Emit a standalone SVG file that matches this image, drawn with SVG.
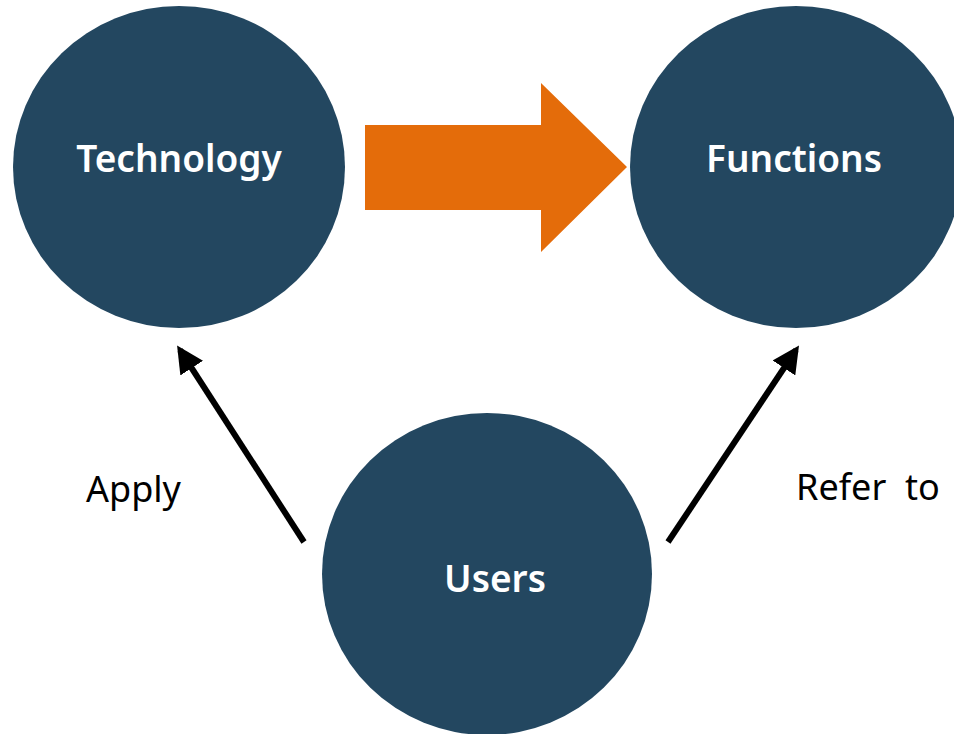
<svg xmlns="http://www.w3.org/2000/svg" width="954" height="734" viewBox="0 0 954 734">
<defs>
<style>
.node{fill:#234760;}
.nlabel{font-family:"Noto Sans","Open Sans",sans-serif;font-weight:600;font-size:37px;fill:#ffffff;text-anchor:middle;}
.elabel{font-family:"Noto Sans","Open Sans",sans-serif;font-size:36px;fill:#000000;}
.conn{stroke:#000000;stroke-width:6;fill:none;}
</style>
<marker id="ah" viewBox="0 0 10 10" refX="8" refY="5" markerWidth="4.5" markerHeight="4.5" markerUnits="strokeWidth" orient="auto">
<path d="M0,0 L10,5 L0,10 z" fill="#000000"/>
</marker>
</defs>
<rect width="954" height="734" fill="#ffffff"/>
<g id="technology">
<ellipse class="node" cx="179" cy="167" rx="166" ry="161"/>
<text class="nlabel" x="179" y="172">Technology</text>
</g>
<g id="functions">
<ellipse class="node" cx="796" cy="167" rx="166" ry="161"/>
<text class="nlabel" x="794" y="172">Functions</text>
</g>
<g id="users">
<ellipse class="node" cx="487" cy="574" rx="165" ry="161"/>
<text class="nlabel" x="495" y="592">Users</text>
</g>
<g id="connectors">
<polygon points="365,125 541,125 541,83 627,167 541,252 541,210 365,210" fill="#E46C0A"/>
<line class="conn" x1="304" y1="542" x2="180" y2="350" marker-end="url(#ah)"/>
<line class="conn" x1="668" y1="542" x2="796" y2="350" marker-end="url(#ah)"/>
<text class="elabel" x="86" y="502">Apply</text>
<text class="elabel" x="796" y="500" xml:space="preserve">Refer  to</text>
</g>
</svg>
